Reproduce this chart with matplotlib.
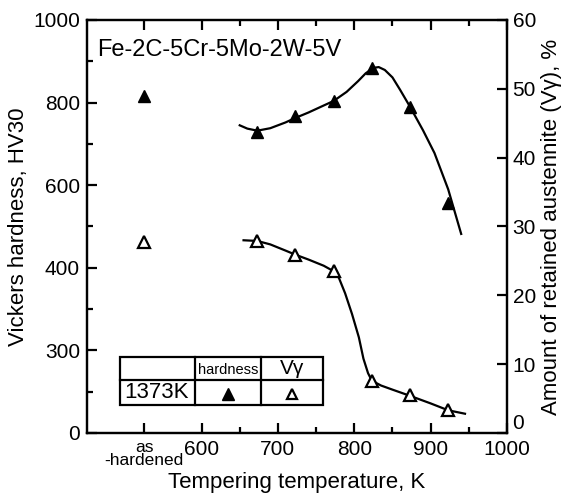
import numpy as np
import matplotlib
matplotlib.use("Agg")
import matplotlib.pyplot as plt
import matplotlib.ticker as ticker

plt.rcParams["font.family"] = ["Liberation Sans", "DejaVu Sans"]

# Measured points (as-hardened plotted at 525 on the K axis)
asHardenedX = 525
temps = [673, 723, 773, 823, 873, 923]
hardnessAsHard = 815
hardness = [730, 768, 804, 884, 789, 557]
vgAsHard = 27.7
vgamma = [27.9, 25.9, 23.5, 7.6, 5.5, 3.3]

# Fitted curves
hvCurveT = [650, 660, 673, 690, 710, 723, 740, 760, 773, 790, 805, 815, 825, 832, 840, 850, 860, 873, 890, 905, 923, 940]
hvCurve = [745, 737, 732, 738, 752, 763, 776, 793, 804, 826, 852, 871, 884, 886, 879, 861, 831, 790, 733, 678, 590, 482]
vgCurveT = [655, 673, 690, 710, 723, 740, 760, 773, 780, 788, 797, 806, 812, 818, 823, 835, 850, 873, 900, 923, 945]
vgCurve = [28.0, 27.9, 27.4, 26.5, 25.9, 25.2, 24.3, 23.5, 22.5, 20.3, 17.3, 13.9, 10.8, 8.7, 7.6, 6.9, 6.3, 5.4, 4.3, 3.3, 2.8]

xMajor = [asHardenedX, 600, 700, 800, 900, 1000]
xLabels = ["as\n-hardened", "600", "700", "800", "900", "1000"]
xMinor = [650, 750, 850, 950]
hvTickPos = [0, 200, 400, 600, 800, 1000]
hvTickLabels = ["0", "300", "400", "600", "800", "1000"]
hvMinor = [100, 300, 500, 700, 900]
vgTicks = [0, 10, 20, 30, 40, 50, 60]

fig = plt.figure(figsize=(5.82, 4.97), dpi=100)
ax = fig.add_axes([87/582, 64/497, 420/582, 413/497])
ax2 = ax.twinx()

lw = 1.6
for a in (ax, ax2):
    for s in a.spines.values():
        s.set_linewidth(lw)

# Curves and markers
ax.plot(hvCurveT, hvCurve, color="k", lw=1.6, zorder=2)
ax.plot(temps + [asHardenedX], hardness + [hardnessAsHard], ls="none", marker="^",
        ms=9, color="k", zorder=3)
ax2.plot(vgCurveT, vgCurve, color="k", lw=1.6, zorder=2)
ax2.plot(temps + [asHardenedX], vgamma + [vgAsHard], ls="none", marker="^", ms=8,
         mfc="white", mec="k", mew=1.6, zorder=3)

ax.set_xlim(450, 1000)
ax.set_ylim(0, 1000)
ax2.set_ylim(0, 60)

ax.xaxis.set_major_locator(ticker.FixedLocator(xMajor))
ax.xaxis.set_minor_locator(ticker.FixedLocator(xMinor))
ax.set_xticklabels(xLabels)
ax.yaxis.set_major_locator(ticker.FixedLocator(hvTickPos))
ax.yaxis.set_major_formatter(ticker.FixedFormatter(hvTickLabels))
ax.yaxis.set_minor_locator(ticker.FixedLocator(hvMinor))
ax2.yaxis.set_major_locator(ticker.FixedLocator(vgTicks))
ax2.yaxis.set_minor_locator(ticker.NullLocator())

ax.tick_params(which="both", direction="in", top=True, right=False, width=lw, labelsize=15)
ax.tick_params(which="major", length=7, pad=5)
ax.tick_params(which="minor", length=4)
ax2.tick_params(which="both", direction="in", width=lw, length=7, labelsize=15, pad=4)

# smaller as-hardened label
lab = ax.get_xticklabels()[0]
lab.set_fontsize(12.5)
lab.set_linespacing(0.85)

# lift the right-axis "0" a little so it clears "1000"
ax2.get_yticklabels()[0].set_verticalalignment("bottom")

ax.set_xlabel("Tempering temperature, K", fontsize=16, labelpad=3)
ax.set_ylabel("Vickers hardness, HV30", fontsize=16, labelpad=3)
ax2.set_ylabel("Amount of retained austennite (V\u03b3), %", fontsize=16, labelpad=4)

ax.text(0.025, 0.955, "Fe-2C-5Cr-5Mo-2W-5V", transform=ax.transAxes, fontsize=17,
        ha="left", va="top")

# Legend table
tab = fig.add_axes([120/582, (497-405)/497, 203/582, 48/497], zorder=5)
tab.set_xlim(0, 203)
tab.set_ylim(0, 48)
tab.axis("off")
tab.add_patch(plt.Rectangle((0, 0), 203, 48, fc="white", ec="k", lw=1.6, clip_on=False))
tab.plot([75, 75], [0, 48], color="k", lw=1.6, clip_on=False)
tab.plot([141, 141], [0, 48], color="k", lw=1.6, clip_on=False)
tab.plot([0, 203], [25, 25], color="k", lw=1.6, clip_on=False)
tab.text(108, 35, "hardness", fontsize=10.5, ha="center", va="center")
tab.text(172, 37, "V\u03b3", fontsize=15, ha="center", va="center")
tab.text(37, 12, "1373K", fontsize=16, ha="center", va="center")
tab.plot([108], [11], marker="^", ms=9, color="k", ls="none")
tab.plot([172], [11], marker="^", ms=7, mfc="white", mec="k", mew=1.6, ls="none")

fig.savefig("out.png", dpi=100)
